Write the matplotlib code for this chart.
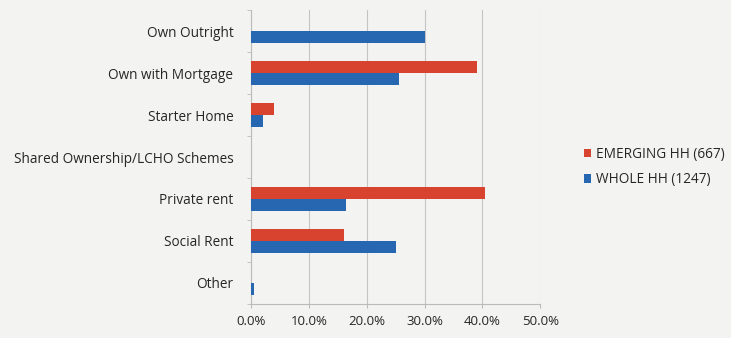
import matplotlib.pyplot as plt
import numpy as np

categories = ['Own Outright', 'Own with Mortgage', 'Starter Home',
              'Shared Ownership/LCHO Schemes', 'Private rent', 'Social Rent', 'Other']
emerging = [0.0, 39.1, 3.9, 0.0, 40.4, 16.1, 0.0]
whole = [30.0, 25.6, 2.0, 0.0, 16.3, 25.0, 0.45]
series_names = ['EMERGING HH (667)', 'WHOLE HH (1247)']
xticks = [0, 10, 20, 30, 40, 50]

bg = '#f3f3f1'
red = '#d8432f'
blue = '#2766b0'
txt = '#262626'

plt.rcParams['font.family'] = ['Open Sans', 'DejaVu Sans']

fig = plt.figure(figsize=(7.31, 3.38), dpi=100, facecolor=bg)
ax = fig.add_axes([0.344, 0.101, 0.395, 0.869], facecolor=bg)

y = np.arange(len(categories))
h = 0.29
ax.barh(y - h / 2, emerging, height=h, color=red, lw=0,
        label=series_names[0], zorder=3)
ax.barh(y + h / 2, whole, height=h, color=blue, lw=0,
        label=series_names[1], zorder=3)

ax.set_ylim(len(categories) - 0.5, -0.5)
ax.set_xlim(0, 50)
ax.set_yticks(y)
ax.set_yticklabels(categories, fontsize=9.8, color=txt)
ax.set_yticks(np.arange(len(categories) + 1) - 0.5, minor=True)
ax.tick_params(axis='y', which='major', length=0, pad=13)
ax.tick_params(axis='y', which='minor', length=3, color='#bbbbbb')
ax.set_xticks(xticks)
ax.set_xticklabels([f'{v:.1f}%' for v in xticks], fontsize=9.5, color=txt)
ax.tick_params(axis='x', length=3, color='#bbbbbb', pad=5)

ax.grid(axis='x', color='#c4c4c4', lw=0.8, zorder=0)
ax.spines['top'].set_visible(False)
ax.spines['right'].set_visible(False)
ax.spines['left'].set_color('#bbbbbb')
ax.spines['bottom'].set_color('#bbbbbb')

leg = fig.legend(loc='center left', bbox_to_anchor=(0.782, 0.505), frameon=False,
                 fontsize=9.8, handlelength=0.55, handleheight=0.55,
                 handletextpad=0.35, labelspacing=0.75, labelcolor=txt)

fig.savefig('out.png', dpi=100, facecolor=bg)
